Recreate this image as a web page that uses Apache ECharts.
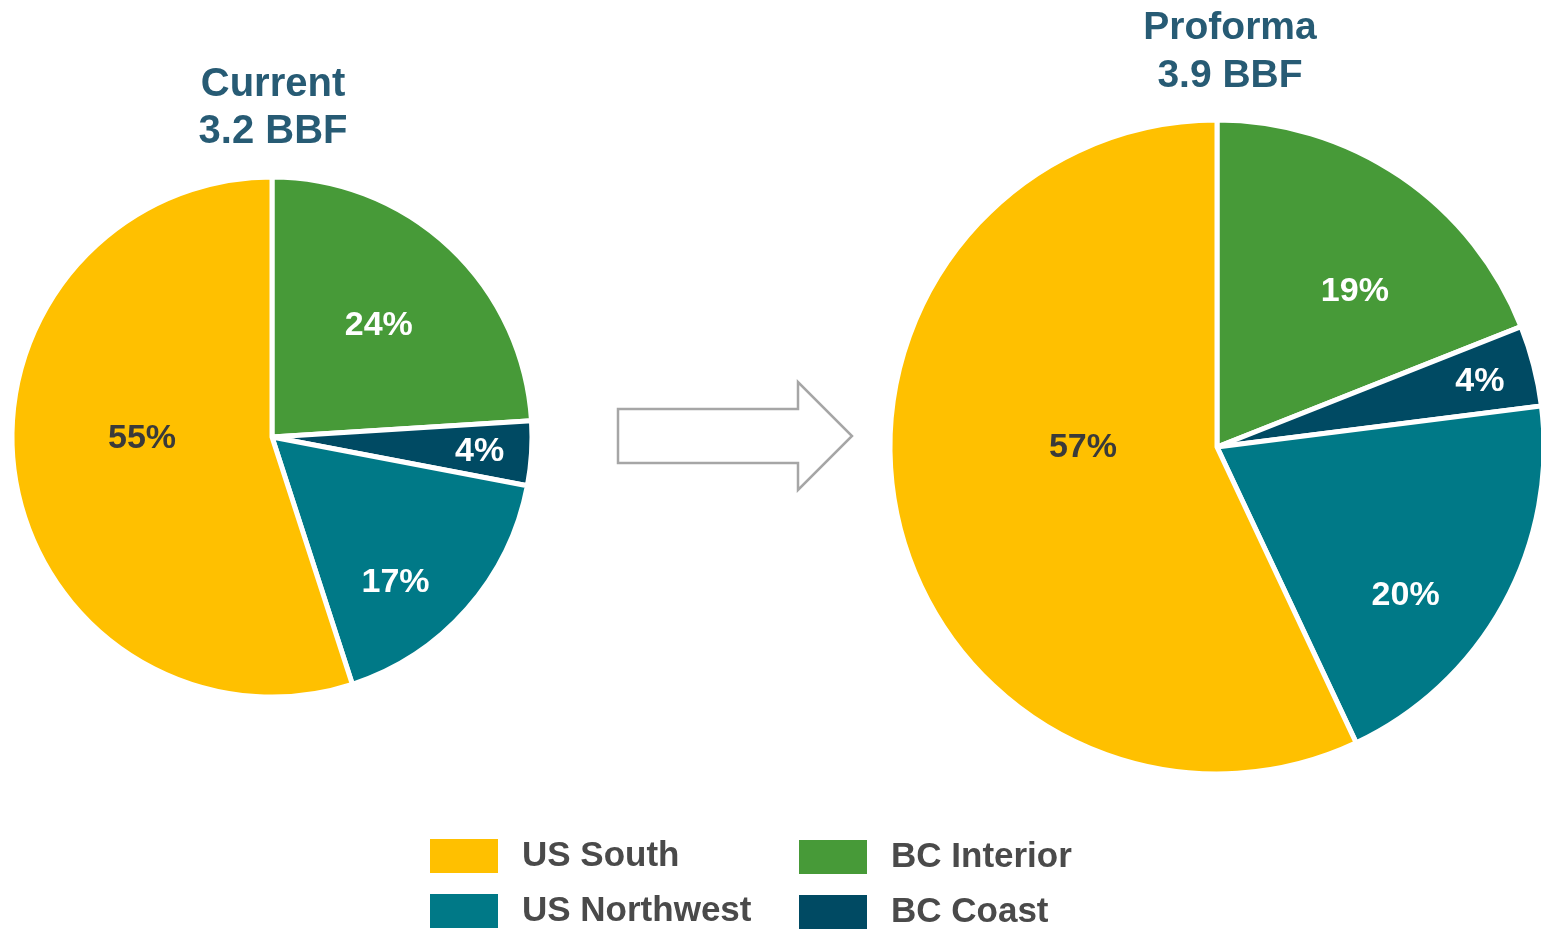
<!DOCTYPE html>
<html>
<head>
<meta charset="utf-8">
<script src="https://cdn.jsdelivr.net/npm/echarts@6/dist/echarts.min.js"></script>
<style>
html,body{margin:0;padding:0;background:#fff;}
#chart{width:1541px;height:931px;}
</style>
</head>
<body>
<div id="chart"></div>
<script>
// ---- data ----
const categories = ['BC Interior', 'BC Coast', 'US Northwest', 'US South'];
const currentValues = [24, 4, 17, 55];
const proformaValues = [19, 4, 20, 57];
const currentTitle = 'Current\n3.2 BBF';
const proformaTitle = 'Proforma\n3.9 BBF';
const legendCol1 = ['US South', 'US Northwest'];
const legendCol2 = ['BC Interior', 'BC Coast'];

// ---- styles ----
const colors = ['#479A38', '#004A63', '#007987', '#FFC000'];
const labelColors = ['#ffffff', '#ffffff', '#ffffff', '#3a3a3a'];
const FONT = '"Liberation Sans", Arial, Helvetica, sans-serif';

// label placement (fraction of radius, angular shift in degrees from slice mid)
const leftLabelRad = [0.6, 0.8, 0.73, 0.5];
const leftLabelShift = [0, 0, 8, 9];
const rightLabelRad = [0.64, 0.83, 0.73, 0.41];
const rightLabelShift = [7, 0, 9, 13];
const labelBaselineNudge = 2;

const leftPie = { cx: 272, cy: 437, r: 260 };
const rightPie = { cx: 1217, cy: 447, r: 327 };

function makeLabelLayout(values, pie, rad, shift) {
  const total = values.reduce((a, b) => a + b, 0);
  let cum = 0;
  const mids = values.map(v => { const m = (cum + v / 2) / total * 360; cum += v; return m; });
  return function (p) {
    const i = p.dataIndex;
    const a = (mids[i] + shift[i]) * Math.PI / 180;
    return {
      x: pie.cx + rad[i] * pie.r * Math.sin(a),
      y: pie.cy - rad[i] * pie.r * Math.cos(a) + labelBaselineNudge
    };
  };
}

function buildData(values) {
  return categories.map((c, i) => ({
    name: c,
    value: values[i],
    itemStyle: { color: colors[i] },
    label: { color: labelColors[i] }
  }));
}

function pieSeries(values, pie, rad, shift) {
  return {
    type: 'pie',
    center: [pie.cx, pie.cy],
    radius: [0, pie.r],
    startAngle: 90,
    clockwise: true,
    animation: false,
    silent: true,
    itemStyle: { borderColor: '#ffffff', borderWidth: 5 },
    label: {
      show: true,
      position: 'inside',
      formatter: '{c}%',
      fontFamily: FONT,
      fontWeight: 'bold',
      fontSize: 34
    },
    labelLine: { show: false },
    labelLayout: makeLabelLayout(values, pie, rad, shift),
    emphasis: { disabled: true },
    data: buildData(values)
  };
}

const legendBase = {
  orient: 'horizontal',
  icon: 'rect',
  itemWidth: 70,
  itemHeight: 36,
  padding: 0,
  selectedMode: false,
  textStyle: {
    fontFamily: FONT,
    fontWeight: 'bold',
    fontSize: 35,
    color: '#4a4a4a',
    padding: [6, 0, 0, 18]
  }
};
const legendCols = [{ left: 428, tops: [837, 892], names: legendCol1 },
                    { left: 797, tops: [838, 893], names: legendCol2 }];
const legends = [];
legendCols.forEach(col => col.names.forEach((n, k) => {
  legends.push(Object.assign({}, legendBase, { left: col.left, top: col.tops[k], data: [n] }));
}));

const chart = echarts.init(document.getElementById('chart'), null, { renderer: 'canvas' });
chart.setOption({
  backgroundColor: '#ffffff',
  animation: false,
  legend: legends,
  graphic: [
    {
      type: 'text', x: 273, y: 108,
      style: {
        text: currentTitle, textAlign: 'center', textVerticalAlign: 'middle',
        font: 'bold 40px ' + FONT, lineHeight: 47, fill: '#275B74'
      }
    },
    {
      type: 'text', x: 1230, y: 52,
      style: {
        text: proformaTitle, textAlign: 'center', textVerticalAlign: 'middle',
        font: 'bold 39px ' + FONT, lineHeight: 48, fill: '#275B74'
      }
    },
    {
      type: 'polygon',
      shape: {
        points: [[618, 409], [798, 409], [798, 382], [852, 436], [798, 490], [798, 463], [618, 463]]
      },
      style: { fill: '#ffffff', stroke: '#A6A6A6', lineWidth: 2.5 }
    }
  ],
  series: [
    pieSeries(currentValues, leftPie, leftLabelRad, leftLabelShift),
    pieSeries(proformaValues, rightPie, rightLabelRad, rightLabelShift)
  ]
});
</script>
</body>
</html>
